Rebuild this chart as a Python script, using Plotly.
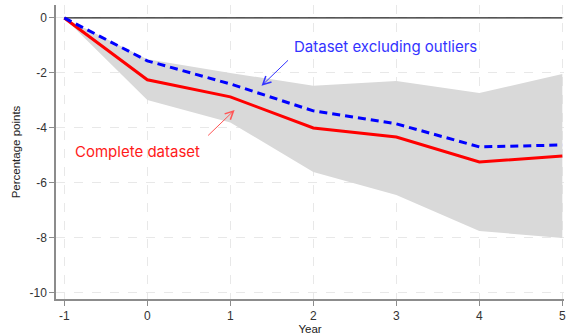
import plotly.graph_objects as go

years = [-1, 0, 1, 2, 3, 4, 5]
complete = [0, -2.25, -2.87, -4.0, -4.33, -5.24, -5.02]
excluding = [0, -1.56, -2.4, -3.38, -3.85, -4.69, -4.62]
band_upper = [0, -1.5, -2.0, -2.47, -2.29, -2.73, -2.04]
band_lower = [0, -2.98, -3.8, -5.6, -6.44, -7.75, -8.0]
y_ticks = [0, -2, -4, -6, -8, -10]
y_tick_labels = ["0", "-2", "-4", "-6", "-8", "-10"]
x_ticks = years
x_tick_labels = ["-1", "0", "1", "2", "3", "4", "5"]

fig = go.Figure()
fig.add_trace(go.Scatter(x=years, y=band_upper, mode="lines", line=dict(width=0),
                         showlegend=False, hoverinfo="skip"))
fig.add_trace(go.Scatter(x=years, y=band_lower, mode="lines", line=dict(width=0),
                         fill="tonexty", fillcolor="#d9d9d9", showlegend=False, hoverinfo="skip"))
fig.add_trace(go.Scatter(x=[years[0], years[-1]], y=[0, 0], mode="lines",
                         line=dict(color="#222222", width=1.3), showlegend=False, hoverinfo="skip"))
fig.add_trace(go.Scatter(x=years, y=complete, mode="lines",
                         line=dict(color="#ff0000", width=3), showlegend=False))
fig.add_trace(go.Scatter(x=years, y=excluding, mode="lines",
                         line=dict(color="#0000ff", width=3, dash="8px,5px"), showlegend=False))

ann_font = "Inter, Open Sans, sans-serif"
fig.add_annotation(x=2.864, y=-1.055, text="Dataset excluding outliers", showarrow=False,
                   font=dict(family=ann_font, size=15, color="#3333ff"))
fig.add_annotation(x=-0.124, y=-4.84, text="Complete dataset", showarrow=False,
                   font=dict(family=ann_font, size=15, color="#ff1a1a"))
fig.add_annotation(x=1.376, y=-2.47, ax=28, ay=-27, text="", showarrow=True,
                   arrowhead=5, arrowsize=1.6, arrowwidth=1, arrowcolor="#3333ff")
fig.add_annotation(x=1.052, y=-3.345, ax=-28, ay=27, text="", showarrow=True,
                   arrowhead=5, arrowsize=1.6, arrowwidth=1, arrowcolor="#ff5555")

axis_common = dict(showline=True, linecolor="#8c8c8c", linewidth=1.5,
                   ticks="outside", ticklen=5, tickcolor="#8c8c8c",
                   showgrid=True, gridcolor="#e8e8e8", griddash="dash", gridwidth=1,
                   zeroline=False,
                   tickfont=dict(family="Liberation Sans, Arial", size=12, color="#333333"),
                   title_font=dict(family="Liberation Sans, Arial", size=11.5, color="#222222"))

fig.update_xaxes(range=[-1.1, 5.02], tickvals=x_ticks, ticktext=x_tick_labels, title_text="Year",
                 title_standoff=2, **axis_common)
fig.update_yaxes(range=[-10.22, 0.47], tickvals=y_ticks, ticktext=y_tick_labels,
                 title_text="Percentage points", title_standoff=6, **axis_common)

fig.update_layout(width=568, height=335, margin=dict(l=56, r=2, t=5, b=36),
                  plot_bgcolor="white", paper_bgcolor="white")

fig.write_html("out.html")
